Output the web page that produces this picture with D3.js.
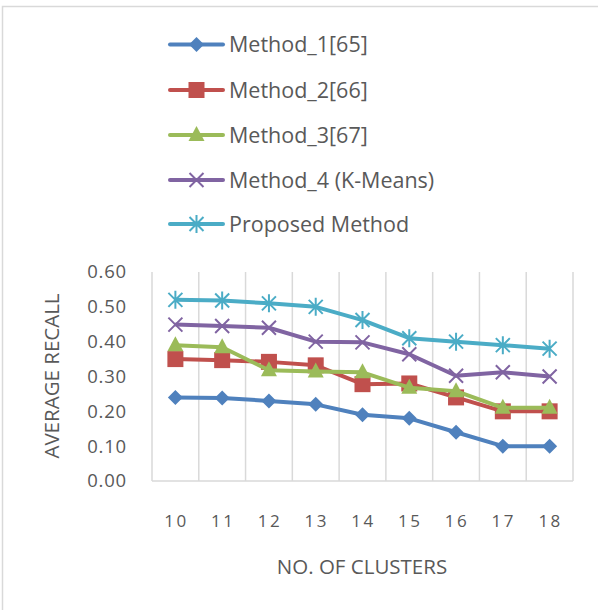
<!DOCTYPE html>
<html><head><meta charset="utf-8">
<script src="https://cdn.jsdelivr.net/npm/d3@7/dist/d3.min.js"></script>
<style>body{margin:0;background:#fff}svg{display:block}</style>
</head><body><svg id="c" width="598" height="610"></svg>
<script>
const categories = ["10","11","12","13","14","15","16","17","18"];
const seriesNames = ["Method_1[65]","Method_2[66]","Method_3[67]","Method_4 (K-Means)","Proposed Method"];
const method1 = [0.24,0.238,0.23,0.22,0.19,0.18,0.14,0.10,0.10];
const method2 = [0.35,0.347,0.342,0.332,0.278,0.28,0.24,0.20,0.20];
const method3 = [0.39,0.384,0.318,0.314,0.312,0.268,0.258,0.21,0.21];
const method4 = [0.449,0.445,0.44,0.40,0.398,0.364,0.302,0.312,0.30];
const proposed = [0.52,0.518,0.51,0.50,0.462,0.41,0.40,0.39,0.38];
const yTicks = [0,0.1,0.2,0.3,0.4,0.5,0.6];
const colors = ["#4F81BD","#C0504D","#9BBB59","#8064A2","#4BACC6"];
const markers = ["diamond","square","triangle","x","star"];
const allSeries = [method1,method2,method3,method4,proposed];

const svg = d3.select("#c");
const font = "'Open Sans', sans-serif";
const txt = "#595959";
const grid = "#d9d9d9";

svg.append("rect").attr("x",2.5).attr("y",6.5).attr("width",640).attr("height",640)
  .attr("fill","none").attr("stroke","#d9d9d9").attr("stroke-width",1.5);

const L=152, R=573, T=272, B=481;
const x = d3.scaleBand().domain(categories).range([L,R]);
const y = d3.scaleLinear().domain([0,0.6]).range([B,T]);

// vertical gridlines
const gx = d3.range(categories.length+1).map(i=>L+i*x.step());
svg.append("g").selectAll("line").data(gx).join("line")
  .attr("x1",d=>d).attr("x2",d=>d).attr("y1",T).attr("y2",B)
  .attr("stroke",grid).attr("stroke-width",1.5);
svg.append("line").attr("x1",L).attr("x2",R).attr("y1",B).attr("y2",B)
  .attr("stroke",grid).attr("stroke-width",1.5);

// y ticks
svg.append("g").selectAll("text").data(yTicks).join("text")
  .attr("x",127).attr("y",d=>y(d)).attr("dy","0.35em").attr("text-anchor","end")
  .attr("font-family",font).attr("font-size",18.5).attr("letter-spacing","0.8px").attr("fill",txt)
  .text(d=>d.toFixed(2));
// x ticks
svg.append("g").selectAll("text").data(categories).join("text")
  .attr("x",d=>x(d)+x.bandwidth()/2+1).attr("y",521).attr("dy","0.35em").attr("text-anchor","middle")
  .attr("font-family",font).attr("font-size",17).attr("letter-spacing","2.5px").attr("fill",txt)
  .text(d=>d);

svg.append("text").attr("x",362).attr("y",567).attr("dy","0.35em").attr("text-anchor","middle")
  .attr("font-family",font).attr("font-size",20.5).attr("fill",txt).text("NO. OF CLUSTERS");
svg.append("text").attr("transform","translate(52,376) rotate(-90)").attr("dy","0.35em")
  .attr("text-anchor","middle").attr("font-family",font).attr("font-size",20.5).attr("fill",txt)
  .text("AVERAGE RECALL");

function drawMarker(g, type, cx, cy, color){
  const s=7.5;
  if(type==="diamond"){
    g.append("path").attr("d",`M${cx},${cy-s}L${cx+s},${cy}L${cx},${cy+s}L${cx-s},${cy}Z`).attr("fill",color);
  } else if(type==="square"){
    g.append("rect").attr("x",cx-8).attr("y",cy-8).attr("width",16).attr("height",16).attr("fill",color);
  } else if(type==="triangle"){
    g.append("path").attr("d",`M${cx},${cy-9}L${cx+8},${cy+6}L${cx-8},${cy+6}Z`).attr("fill",color);
  } else if(type==="x"){
    g.append("path").attr("d",`M${cx-7},${cy-7}L${cx+7},${cy+7}M${cx-7},${cy+7}L${cx+7},${cy-7}`)
      .attr("stroke",color).attr("stroke-width",2);
  } else {
    g.append("path").attr("d",`M${cx-7},${cy-7}L${cx+7},${cy+7}M${cx-7},${cy+7}L${cx+7},${cy-7}M${cx},${cy-9}L${cx},${cy+9}`)
      .attr("stroke",color).attr("stroke-width",2);
  }
}

const line = d3.line().x((d,i)=>x(categories[i])+x.bandwidth()/2).y(d=>y(d));
allSeries.forEach((vals,si)=>{
  const g = svg.append("g");
  g.append("path").datum(vals).attr("d",line).attr("fill","none")
    .attr("stroke",colors[si]).attr("stroke-width",4).attr("stroke-linejoin","round");
  vals.forEach((v,i)=>drawMarker(g, markers[si], x(categories[i])+x.bandwidth()/2, y(v), colors[si]));
});

// legend
const rows = [44.5,90,135,180,224];
seriesNames.forEach((n,i)=>{
  const g = svg.append("g");
  g.append("line").attr("x1",170).attr("x2",223).attr("y1",rows[i]).attr("y2",rows[i])
    .attr("stroke",colors[i]).attr("stroke-width",4).attr("stroke-linecap","round");
  drawMarker(g, markers[i], 196.5, rows[i], colors[i]);
  g.append("text").attr("x",229).attr("y",rows[i]).attr("dy","0.35em")
    .attr("font-family",font).attr("font-size",21.5).attr("fill",txt).text(n);
});
</script></body></html>
